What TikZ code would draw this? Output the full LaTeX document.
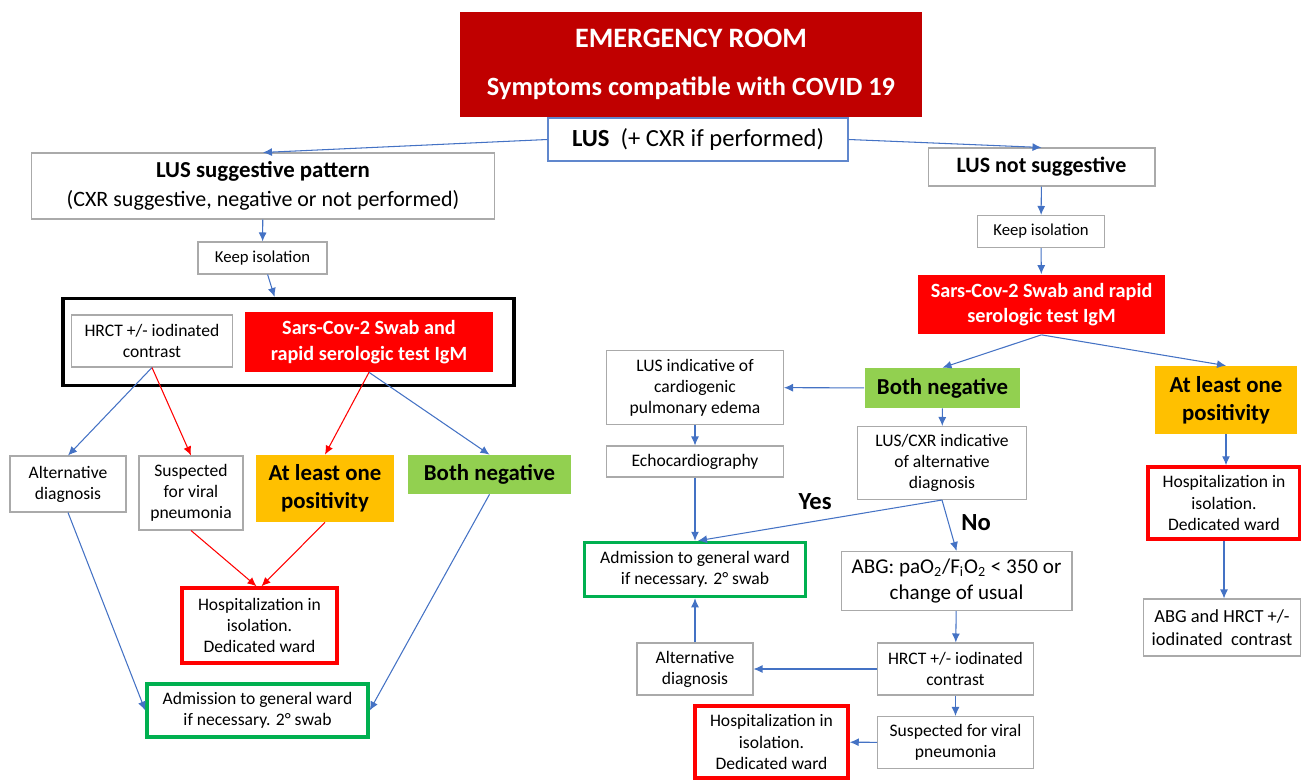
\documentclass[tikz,border=0pt]{standalone}
\usepackage{fontspec}
\setmainfont{Carlito}
\definecolor{main}{RGB}{68,114,196}
\definecolor{second}{RGB}{255,0,0}
\definecolor{third}{RGB}{192,0,0}
\definecolor{fourth}{RGB}{0,176,80}
\definecolor{fifth}{RGB}{255,192,0}
\definecolor{sixth}{RGB}{146,208,80}
\definecolor{seventh}{RGB}{170,170,170}
\usepackage{tikz}
\usetikzlibrary{
	arrows.meta,
	positioning
}
\tikzset{
  % arrow
	cstra/.style      ={-{Latex[length=1.8mm,width=1.6mm]}, main, line width=0.6pt},  % blue arrow
	cstrra/.style     ={-{Latex[length=1.8mm,width=1.6mm]}, second, line width=0.6pt}, % red arrow
  % text
	cstsmall/.style   ={font=\fontsize{10}{12}\selectfont},
	cstbig/.style     ={font=\fontsize{13}{16}\selectfont\bfseries},
	csttest/.style    ={font=\fontsize{11.5}{14.5}\selectfont\bfseries},
	cstlab/.style     ={font=\fontsize{14}{16}\selectfont\bfseries, text=black, inner sep=1pt},
  % node
	cstsize/.style 2 args ={minimum width=#1cm, minimum height=#2cm},
	cstnode/.style    ={draw=seventh, fill=white, text=black, align=center, inner sep=1pt, line width=0.6pt},
	cstnode1/.style   ={fill=third, text=white, align=center, inner sep=1pt},  % title
	cstnode2/.style   ={fill=second, text=white, align=center, inner sep=1pt}, % swab
	cstnode3/.style   ={draw=second, fill=white, text=black, align=center, inner sep=1pt, line width=2pt}, % isolation
	cstnode4/.style   ={draw=fourth, fill=white, text=black, align=center, inner sep=1pt, line width=2pt}, % ward
	cstnode5/.style   ={fill=fifth, text=black, align=center, inner sep=1pt},  % positive
	cstnode6/.style   ={fill=sixth, text=black, align=center, inner sep=1pt}   % negative
}
\begin{document}
\begin{tikzpicture}[x=0.02cm, y=-0.02cm]
	\useasboundingbox (0,0) rectangle (1301,781);
	% top
	\node[cstnode1, cstsize={9.24}{2.10}, font=\fontsize{15}{18}\selectfont\bfseries] (er) at (691,64.5)
		{{\fontsize{16}{19}\selectfont EMERGENCY ROOM}\\[9pt]Symptoms compatible with COVID 19};
	\node[cstnode, draw=main!85, line width=0.8pt, cstsize={6.0}{0.86}, font=\fontsize{14}{17}\selectfont] (lus) at (698,139.5)
		{\textbf{LUS}\ \ (+ CXR if performed)};
	% left branch
	\node[cstnode, cstsize={9.26}{1.32}, font=\fontsize{12.5}{16.5}\selectfont] (sugg) at (263,186)
		{{\fontsize{13}{16.5}\selectfont\bfseries LUS suggestive pattern}\\(CXR suggestive, negative or not performed)};
	\node[cstnode, cstsize={2.58}{0.64}, font=\fontsize{9.5}{11.5}\selectfont] (keepL) at (262.5,258) {Keep isolation};
	\node[draw=black, line width=1.8pt, cstsize={9.02}{1.74}] (frame) at (288.5,342) {};
	\node[cstnode, cstsmall, cstsize={3.22}{1.04}] (hrctL) at (152,341) {HRCT +/- iodinated\\contrast};
	\node[cstnode2, csttest, cstsize={4.98}{1.20}] (sarsL) at (369,342) {Sars-Cov-2 Swab and\\rapid serologic test IgM};
	\node[cstnode, cstsmall, cstsize={2.32}{1.12}] (altL) at (68,484) {Alternative\\diagnosis};
	\node[cstnode, cstsmall, cstsize={2.08}{1.48}] (suspL) at (191,493) {Suspected\\for viral\\pneumonia};
	\node[cstnode5, cstbig, cstsize={2.76}{1.34}] (posL) at (325,488.5) {At least one\\positivity};
	\node[cstnode6, cstbig, cstsize={3.26}{0.78}] (negL) at (489.5,474.5) {Both negative};
	\node[cstnode3, cstsmall, cstsize={3.10}{1.50}] (hospL) at (259.5,625.5) {Hospitalization in\\isolation.\\Dedicated ward};
	\node[cstnode4, cstsmall, cstsize={4.42}{1.06}] (admL) at (257.5,710.5) {Admission to general ward\\if necessary. 2° swab};
	% right branch
	\node[cstnode, cstsize={4.54}{0.76}, font=\fontsize{12.5}{15}\selectfont\bfseries] (notsugg) at (1041.5,167) {LUS not suggestive};
	\node[cstnode, cstsize={2.54}{0.64}, font=\fontsize{9.5}{11.5}\selectfont] (keepR) at (1041,231.5) {Keep isolation};
	\node[cstnode2, csttest, cstsize={4.96}{1.20}] (sarsR) at (1041.5,304.5) {Sars-Cov-2 Swab and rapid\\serologic test IgM};
	\node[cstnode6, cstbig, cstsize={3.12}{0.80}] (negR) at (942.5,388) {Both negative};
	\node[cstnode5, cstbig, cstsize={2.84}{1.36}] (posR) at (1226,400) {At least one\\positivity};
	\node[cstnode, cstsmall, cstsize={3.54}{1.48}] (cardio) at (695,387.5) {LUS indicative of\\cardiogenic\\pulmonary edema};
	\node[cstnode, cstsmall, cstsize={3.54}{0.62}] (echo) at (695,461.5) {Echocardiography};
	\node[cstnode, cstsmall, cstsize={3.38}{1.46}] (altdx) at (942,463) {LUS/CXR indicative\\of alternative\\diagnosis};
	\node[cstnode4, cstsmall, cstsize={4.42}{1.08}] (admR) at (695,569.5) {Admission to general ward\\if necessary. 2° swab};
	\node[cstnode, cstsize={4.62}{1.18}, font=\fontsize{12}{15}\selectfont] (abg) at (956.5,581)
		{ABG: paO\textsubscript{2}/F\textsubscript{i}O\textsubscript{2} < 350 or\\change of usual};
	\node[cstnode, cstsmall, cstsize={2.32}{1.04}] (altR) at (695,669) {Alternative\\diagnosis};
	\node[cstnode, cstsmall, cstsize={3.12}{1.04}] (hrctR) at (955.5,669) {HRCT +/- iodinated\\contrast};
	\node[cstnode3, cstsmall, cstsize={3.06}{1.44}] (hospB) at (771.5,742) {Hospitalization in\\isolation.\\Dedicated ward};
	\node[cstnode, cstsmall, cstsize={3.12}{1.04}] (suspR) at (955.5,742.5) {Suspected for viral\\pneumonia};
	\node[cstnode3, cstsmall, cstsize={3.04}{1.44}] (hospR) at (1224,503) {Hospitalization in\\isolation.\\Dedicated ward};
	\node[cstnode, cstsize={3.16}{1.14}, font=\fontsize{10.5}{13}\selectfont] (abgR) at (1222,627.5) {ABG and HRCT +/-\\iodinated\ \ contrast};
	% arrows
	\draw[cstra] (lus.west) -- (sugg.north);
	\draw[cstra] (lus.east) -- (notsugg.north);
	\draw[cstra] (sugg) -- (keepL);
	\draw[cstra] (keepL) -- (frame);
	\draw[cstra] (hrctL.south) -- (altL.north);
	\draw[cstrra] (hrctL.south) -- (suspL.north);
	\draw[cstrra] (sarsL.south) -- (posL.north);
	\draw[cstra] (sarsL.south) -- (negL.north);
	\draw[cstrra] (suspL.south) -- ([xshift=-0.06cm]hospL.north);
	\draw[cstrra] (posL.south) -- ([xshift=0.04cm]hospL.north);
	\draw[cstra] (altL.south) -- (admL.west);
	\draw[cstra] (negL.south) -- (admL.east);
	\draw[cstra] (notsugg) -- (keepR);
	\draw[cstra] (keepR) -- (sarsR);
	\draw[cstra] (sarsR.south) -- (negR.north);
	\draw[cstra] (sarsR.south) -- (posR.north);
	\draw[cstra] (negR) -- (cardio);
	\draw[cstra] (negR) -- (altdx);
	\draw[cstra] (cardio) -- (echo);
	\draw[cstra] (echo) -- (admR);
	\draw[cstra] (altdx.south) -- ([xshift=0.06cm]admR.north) node[cstlab, pos=0.52, above=5pt] {Yes};
	\draw[cstra] (altdx.south) -- (abg.north) node[cstlab, pos=0.45, right=6pt] {No};
	\draw[cstra] (abg) -- (hrctR);
	\draw[cstra] (hrctR) -- (altR);
	\draw[cstra] (altR) -- (admR);
	\draw[cstra] (hrctR) -- (suspR);
	\draw[cstra] (suspR) -- (hospB);
	\draw[cstra] (posR.south) -- (posR.south |- hospR.north);
	\draw[cstra] (hospR.south) -- (hospR.south |- abgR.north);
\end{tikzpicture}
\end{document}
